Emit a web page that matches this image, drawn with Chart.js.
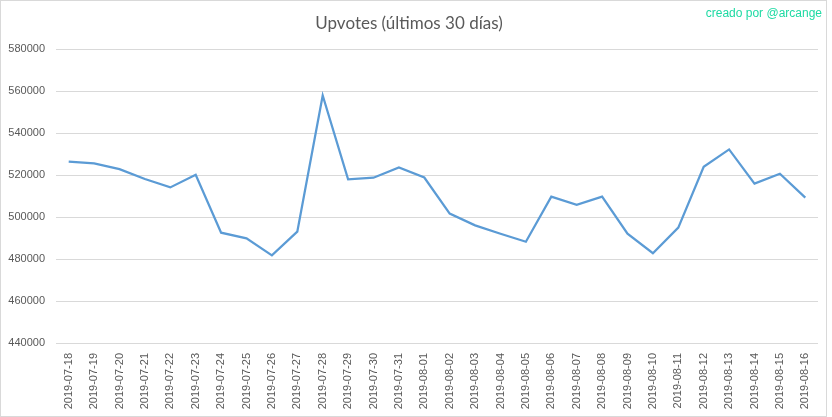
<!DOCTYPE html>
<html>
<head>
<meta charset="utf-8">
<title>Upvotes</title>
<script src="https://cdn.jsdelivr.net/npm/chart.js@4/dist/chart.umd.min.js"></script>
<style>
  body { margin: 0; background: #fff; }
  #wrap { position: relative; width: 832px; height: 417px; }
  #frame { position: absolute; left: 0; top: 0; width: 825px; height: 415px; border: 1px solid #d9d9d9; pointer-events: none; }
  #credit { position: absolute; right: 10px; top: 6px; font: 12px "Liberation Sans", sans-serif; color: #1ddaa3; }
</style>
</head>
<body>
<div id="wrap">
  <canvas id="chart" width="832" height="417"></canvas>
  <div id="frame"></div>
  <div id="credit">creado por @arcange</div>
</div>
<script>
const days = [
  '2019-07-18', '2019-07-19', '2019-07-20', '2019-07-21', '2019-07-22',
  '2019-07-23', '2019-07-24', '2019-07-25', '2019-07-26', '2019-07-27',
  '2019-07-28', '2019-07-29', '2019-07-30', '2019-07-31', '2019-08-01',
  '2019-08-02', '2019-08-03', '2019-08-04', '2019-08-05', '2019-08-06',
  '2019-08-07', '2019-08-08', '2019-08-09', '2019-08-10', '2019-08-11',
  '2019-08-12', '2019-08-13', '2019-08-14', '2019-08-15', '2019-08-16'
];
const upvotes = [
  526500, 525600, 522900, 518200, 514200,
  520200, 492600, 489900, 481800, 493100,
  558000, 518000, 518800, 523700, 518900,
  501700, 496100, 492100, 488300, 509800,
  505900, 509800, 492100, 482800, 495000,
  524000, 532300, 516000, 520700, 509300
];
const yMin = 440000;
const yMax = 580000;
const yStep = 20000;

Chart.defaults.font.family = '"Liberation Sans", sans-serif';
Chart.defaults.color = '#595959';

const config = {
  type: 'line',
  data: {
    labels: days,
    datasets: [{
      label: 'Upvotes',
      data: upvotes,
      borderColor: '#5b9bd5',
      borderWidth: 2.25,
      pointRadius: 0,
      tension: 0,
      fill: false
    }]
  },
  options: {
    responsive: false,
    animation: false,
    layout: { padding: { left: 0, right: 14, top: 0, bottom: 0 } },
    plugins: {
      legend: { display: false },
      tooltip: { enabled: false },
      title: {
        display: true,
        text: 'Upvotes (últimos 30 días)',
        color: '#595959',
        font: { family: 'Lato, sans-serif', size: 17, weight: 'normal' },
        padding: { top: 13, bottom: 16 }
      }
    },
    scales: {
      x: {
        offset: true,
        grid: { display: false, drawTicks: false },
        border: { display: false },
        ticks: {
          autoSkip: false,
          minRotation: 90,
          maxRotation: 90,
          padding: 10,
          font: { size: 11 },
          color: '#595959'
        },
        afterFit: function (scale) { scale.height = 74; }
      },
      y: {
        min: yMin,
        max: yMax,
        grid: { color: '#d9d9d9', lineWidth: 1, drawTicks: false },
        border: { display: false },
        ticks: {
          stepSize: yStep,
          padding: 11,
          font: { size: 11 },
          color: '#595959',
          callback: function (v) { return String(v); }
        },
        afterFit: function (scale) { scale.width = 56; }
      }
    }
  }
};

new Chart(document.getElementById('chart'), config);
</script>
</body>
</html>
